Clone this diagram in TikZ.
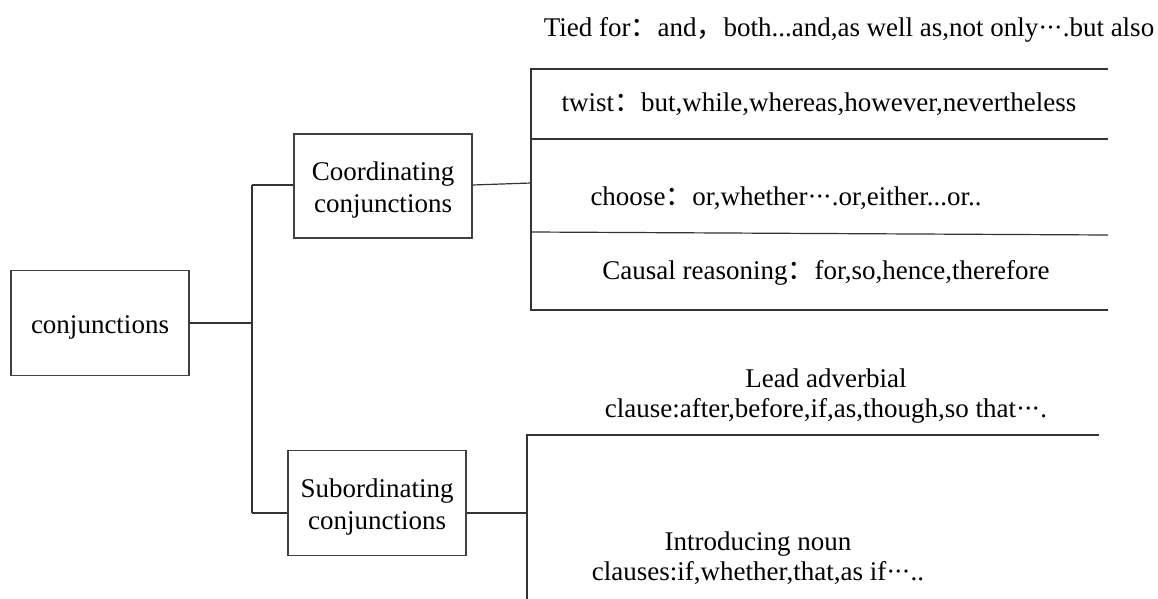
\documentclass[tikz,border=0pt]{standalone}
\usepackage{fontspec}
\setmainfont{Liberation Serif}
\newfontfamily\cjk{Noto Sans CJK SC}
\newcommand\fwc{{\cjk ：}}
\newcommand\fwm{{\cjk ，}}
\newcommand\mdots{·\kern-0.05em·\kern-0.05em·}
\newcommand\tstrut{\rule{0pt}{26pt}}
\begin{document}
\begin{tikzpicture}[x=1pt,y=-1pt,
  every node/.style={font=\fontsize{27}{32}\selectfont},
  box/.style={draw=black!75, line width=1.2pt, minimum width=178pt, minimum height=105pt, align=center, inner sep=2pt},
  conn/.style={draw=black!80, line width=1.2pt},
  lbl/.style={anchor=base, inner sep=0pt}]
\useasboundingbox (0,0) rectangle (1158,599);
% boxes
\node[box] (conj) at (100,323) {\tstrut conjunctions};
\node[box, minimum height=104pt] (coord) at (383,186) {\tstrut Coordinating\\conjunctions};
\node[box] (sub) at (377,503) {\tstrut Subordinating\\conjunctions};
% trunk
\coordinate (tt) at (252,185);
\coordinate (tb) at (252,513);
\draw[conn] (conj.east) -- (conj.east -| tt);
\draw[conn] (tt) -- (tb);
\draw[conn] (tt) -- (tt -| coord.west);
\draw[conn] (tb) -- (tb -| sub.west);
% coordinating bracket
\coordinate (ra) at (531,183);
\coordinate (r1) at (531,69);
\coordinate (r4) at (531,310);
\coordinate (e1) at (1108,69);
\coordinate (e2) at (1108,139);
\coordinate (r3) at (531,232);
\coordinate (e3) at (1108,235);
\coordinate (e4) at (1108,310);
\draw[conn] (coord.east |- tt) -- (ra);
\draw[conn] (e1) -- (r1) -- (r4) -- (e4);
\draw[conn] (r1 |- e2) -- (e2);
\draw[conn] (r3) -- (e3);
% subordinating bracket
\coordinate (sa) at (527,435);
\coordinate (sz) at (527,599);
\coordinate (sr) at (1099,435);
\draw[conn] (tb -| sub.east) -- (tb -| sa);
\draw[conn] (sr) -- (sa) -- (sz);
% labels
\node[lbl] (t1) at (849,37) {Tied for\fwc and\fwm both...and,as well as,not only\mdots.but also};
\node[lbl] (t2) at (819,111) {twist\fwc but,while,whereas,however,nevertheless};
\node[lbl] (t3) at (786,205) {choose\fwc or,whether\mdots.or,either...or..};
\node[lbl] (t4) at (826,279) {Causal reasoning\fwc for,so,hence,therefore};
\node[lbl] (t5a) at (826,387) {Lead adverbial};
\node[lbl] (t5b) at (826,417) {clause:after,before,if,as,though,so that\mdots.};
\node[lbl] (t6a) at (758,550) {Introducing noun};
\node[lbl] (t6b) at (758,580) {clauses:if,whether,that,as if\mdots..};
\end{tikzpicture}
\end{document}
